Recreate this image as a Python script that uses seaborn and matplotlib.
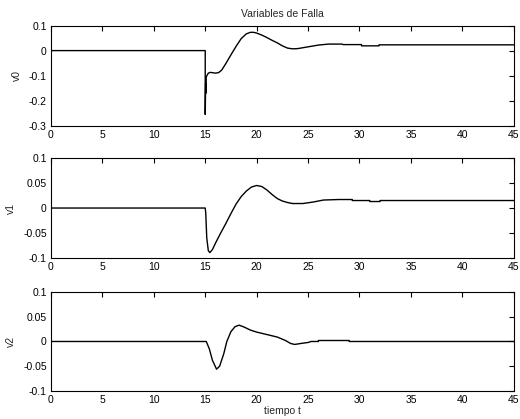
import matplotlib
matplotlib.use("Agg")
import matplotlib.pyplot as plt
import seaborn as sns
import pandas as pd
from matplotlib.ticker import FuncFormatter

# Fault variables: time (s) and response of each signal
t_v0 = [0, 15, 15, 15.04, 15.07, 15.1, 15.3, 15.5, 16.0, 16.3, 16.6, 17.0, 17.5,
        18.0, 18.5, 19.0, 19.4, 19.7, 20.0, 20.5, 21.0, 21.5, 22.0, 22.5, 23.0,
        23.5, 24.0, 25.0, 26.0, 27.0, 28.3, 28.4, 30.2, 30.2, 31.9, 31.9, 45]
v0 = [0, 0, -0.255, -0.13, -0.17, -0.105, -0.09, -0.087, -0.09, -0.088, -0.078,
      -0.052, -0.017, 0.017, 0.048, 0.067, 0.073, 0.073, 0.070, 0.062, 0.052,
      0.041, 0.031, 0.019, 0.010, 0.007, 0.008, 0.015, 0.022, 0.026, 0.026,
      0.024, 0.024, 0.019, 0.019, 0.023, 0.023]

t_v1 = [0, 15, 15.05, 15.15, 15.3, 15.45, 15.7, 16.0, 16.5, 17.0, 17.5, 18.0,
        18.5, 19.0, 19.5, 20.0, 20.5, 21.0, 21.5, 22.0, 22.5, 23.0, 23.5, 24.5,
        25.5, 26.5, 28.0, 29.3, 29.3, 31.0, 31.0, 32.0, 32.0, 45]
v1 = [0, 0, -0.01, -0.06, -0.085, -0.089, -0.083, -0.07, -0.05, -0.031, -0.011,
      0.008, 0.023, 0.034, 0.042, 0.045, 0.043, 0.036, 0.027, 0.019, 0.014,
      0.011, 0.009, 0.009, 0.012, 0.016, 0.017, 0.017, 0.015, 0.015, 0.013,
      0.013, 0.015, 0.015]

t_v2 = [0, 15.1, 15.4, 15.7, 16.1, 16.4, 16.8, 17.1, 17.5, 17.9, 18.3, 18.8,
        19.4, 20.0, 21.0, 22.0, 22.8, 23.3, 23.7, 24.3, 25.0, 25.3, 26.0, 26.0,
        29.0, 29.0, 45]
v2 = [0, 0, -0.015, -0.038, -0.056, -0.05, -0.025, 0.0, 0.02, 0.03, 0.033, 0.029,
      0.023, 0.019, 0.014, 0.009, 0.002, -0.004, -0.006, -0.004, -0.002, 0.0,
      0.0, 0.002, 0.002, 0.0, 0.0]

x_ticks = [0, 5, 10, 15, 20, 25, 30, 35, 40, 45]
y_ticks_v0 = [-0.3, -0.2, -0.1, 0, 0.1]
y_ticks_v12 = [-0.1, -0.05, 0, 0.05, 0.1]

sns.set_style("white")
plt.rcParams["font.family"] = ["Liberation Sans", "DejaVu Sans"]
plt.rcParams["axes.unicode_minus"] = False

fig = plt.figure(figsize=(5.2, 4.19), dpi=100)
rects = [
    [0.098, 0.700, 0.890, 0.239],
    [0.098, 0.384, 0.890, 0.239],
    [0.098, 0.067, 0.890, 0.236],
]
series = [
    (t_v0, v0, "v0", y_ticks_v0, (-0.3, 0.1)),
    (t_v1, v1, "v1", y_ticks_v12, (-0.1, 0.1)),
    (t_v2, v2, "v2", y_ticks_v12, (-0.1, 0.1)),
]

fmt = FuncFormatter(lambda v, p: ("%g" % round(v, 4)))

axes = []
for rect, (t, v, name, yt, ylim) in zip(rects, series):
    ax = fig.add_axes(rect)
    df = pd.DataFrame({"t": t, name: v})
    sns.lineplot(data=df, x="t", y=name, ax=ax, color="black", linewidth=1.0,
                 estimator=None, sort=False)
    ax.set_xlim(0, 45)
    ax.set_ylim(*ylim)
    ax.set_xticks(x_ticks)
    ax.set_yticks(yt)
    ax.xaxis.set_major_formatter(fmt)
    ax.yaxis.set_major_formatter(fmt)
    ax.tick_params(direction="in", length=3.5, width=0.8, top=True, right=True,
                   labelsize=7.5, colors="black", pad=3)
    for s in ax.spines.values():
        s.set_visible(True)
        s.set_color("black")
        s.set_linewidth(0.8)
    ax.set_ylabel(name, fontsize=7.5, labelpad=5)
    ax.set_xlabel("")
    axes.append(ax)

axes[0].set_title("Variables de Falla", fontsize=7.5, pad=6)
axes[2].set_xlabel("tiempo t", fontsize=7.5, labelpad=1)

fig.savefig("out.png", dpi=100, facecolor="white")
